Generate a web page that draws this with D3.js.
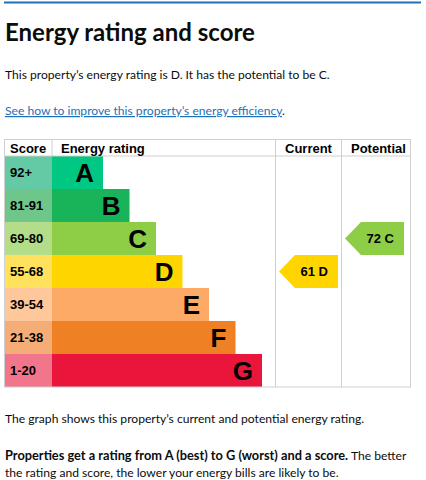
<!DOCTYPE html>
<html>
<head>
<meta charset="utf-8">
<script src="https://cdn.jsdelivr.net/npm/d3@7"></script>
<style>
  html, body { margin: 0; padding: 0; background: #fff; }
  svg { display: block; }
  .page { font-family: Lato, "Noto Sans", sans-serif; fill: #0b0c0c; }
  .epc { font-family: "Liberation Sans", Arial, sans-serif; font-weight: bold; }
</style>
</head>
<body>
<svg id="chart"></svg>
<script>
// bands, score ranges and the two ratings
const bands = ["A", "B", "C", "D", "E", "F", "G"];
const scoreRanges = ["92+", "81-91", "69-80", "55-68", "39-54", "21-38", "1-20"];
const bandFloors = [92, 81, 69, 55, 39, 21, 1];
const columns = ["Current", "Potential"];
const ratings = [61, 72];

const W = 426, H = 480;
const svg = d3.select("#chart").attr("width", W).attr("height", H);

// page text
const page = svg.append("g").attr("class", "page");
const bodySize = "12.1px";
page.append("rect").attr("x", 4).attr("y", 1.5).attr("width", 417).attr("height", 2).attr("fill", "#1d70b8");
page.append("text").attr("x", 5).attr("y", 41)
  .style("font-size", "24px").style("font-weight", "bold")
  .text("Energy rating and score");
page.append("text").attr("x", 5).attr("y", 79).style("font-size", bodySize)
  .text("This property\u2019s energy rating is D. It has the potential to be C.");
let link = page.append("text").attr("x", 5).attr("y", 115).style("font-size", bodySize);
link.append("tspan").attr("fill", "#1d70b8").attr("text-decoration", "underline")
  .text("See how to improve this property\u2019s energy efficiency");
link.append("tspan").text(".");

page.append("text").attr("x", 5).attr("y", 423).style("font-size", bodySize)
  .text("The graph shows this property\u2019s current and potential energy rating.");
let p2 = page.append("text").attr("x", 5).attr("y", 460).style("font-size", bodySize);
p2.append("tspan").style("font-weight", "bold").style("font-size", "12.8px")
  .text("Properties get a rating from A (best) to G (worst) and a score.");
p2.append("tspan").text(" The better");
page.append("text").attr("x", 5).attr("y", 477).style("font-size", bodySize)
  .text("the rating and score, the lower your energy bills are likely to be.");

// table geometry
const tLeft = 4, tRight = 411, tTop = 139, headH = 17, tBottom = 387;
const scoreRight = 52;
const colX = [275, 341, tRight];

const y = d3.scaleBand().domain(bands).range([tTop + headH, tBottom]);
const barLen = d3.scaleLinear().domain([0, bands.length - 1]).range([51, 210]);
const color = d3.scaleOrdinal().domain(bands)
  .range(["#00c781", "#19b459", "#8dce46", "#ffd500", "#fcaa65", "#ef8023", "#e9153b"]);
const lightColor = d3.scaleOrdinal().domain(bands)
  .range(["#64c9a5", "#6fc68b", "#b4dd89", "#ffe15e", "#fec89a", "#f4ad76", "#f1758b"]);
const bandOf = d3.scaleThreshold()
  .domain(bandFloors.slice(0, -1).reverse())
  .range(bands.slice().reverse());

const g = svg.append("g").attr("class", "epc");
const grid = "#cfcfcf";

// rows
const row = g.selectAll(".row").data(bands).enter().append("g").attr("class", "row");
row.append("rect")
  .attr("x", tLeft).attr("y", d => y(d))
  .attr("width", scoreRight - tLeft).attr("height", y.bandwidth())
  .attr("fill", d => lightColor(d));
row.append("rect")
  .attr("x", scoreRight).attr("y", d => y(d))
  .attr("width", (d, i) => barLen(i)).attr("height", y.bandwidth())
  .attr("fill", d => color(d));
row.append("text")
  .attr("x", 10).attr("y", d => y(d) + y.bandwidth() / 2 + 4.6)
  .style("font-size", "13px")
  .text((d, i) => scoreRanges[i]);
row.append("text")
  .attr("x", (d, i) => scoreRight + barLen(i) - 9)
  .attr("y", d => y(d) + y.bandwidth() / 2 + 9.4)
  .attr("text-anchor", "end")
  .style("font-size", "26px")
  .text(d => d);

// grid lines
g.append("line").attr("x1", tLeft).attr("x2", tRight).attr("y1", tTop + headH).attr("y2", tTop + headH)
  .attr("stroke", grid);
g.append("line").attr("x1", scoreRight).attr("x2", scoreRight).attr("y1", tTop).attr("y2", tTop + headH)
  .attr("stroke", grid);
g.selectAll(".vline").data(colX.slice(0, 2)).enter().append("line")
  .attr("x1", d => d + 0.5).attr("x2", d => d + 0.5).attr("y1", tTop).attr("y2", tBottom)
  .attr("stroke", grid);
g.append("rect").attr("x", tLeft + 0.5).attr("y", tTop + 0.5)
  .attr("width", tRight - tLeft - 1).attr("height", tBottom - tTop - 0.5)
  .attr("fill", "none").attr("stroke", grid);

// headers
const headY = tTop + 13.5;
g.append("text").attr("x", 10).attr("y", headY).style("font-size", "13px").text("Score");
g.append("text").attr("x", 61).attr("y", headY).style("font-size", "13px").text("Energy rating");
g.selectAll(".colhead").data(columns).enter().append("text")
  .attr("x", (d, i) => colX[i] + 10).attr("y", headY)
  .style("font-size", "13px").text(d => d);

// rating arrows
const arrowW = 59, tip = 16;
const arrow = g.selectAll(".arrow").data(ratings).enter().append("g").attr("class", "arrow")
  .attr("transform", (d, i) => `translate(${colX[i] + 4},${y(bandOf(d))})`);
arrow.append("path")
  .attr("d", d => {
    const h = y.bandwidth();
    return `M0,${h / 2}L${tip},0H${arrowW}V${h}H${tip}Z`;
  })
  .attr("fill", d => color(bandOf(d)));
arrow.append("text")
  .attr("x", arrowW - 10).attr("y", y.bandwidth() / 2 + 4.7)
  .attr("text-anchor", "end")
  .style("font-size", "13px")
  .text(d => d + " " + bandOf(d));
</script>
</body>
</html>
